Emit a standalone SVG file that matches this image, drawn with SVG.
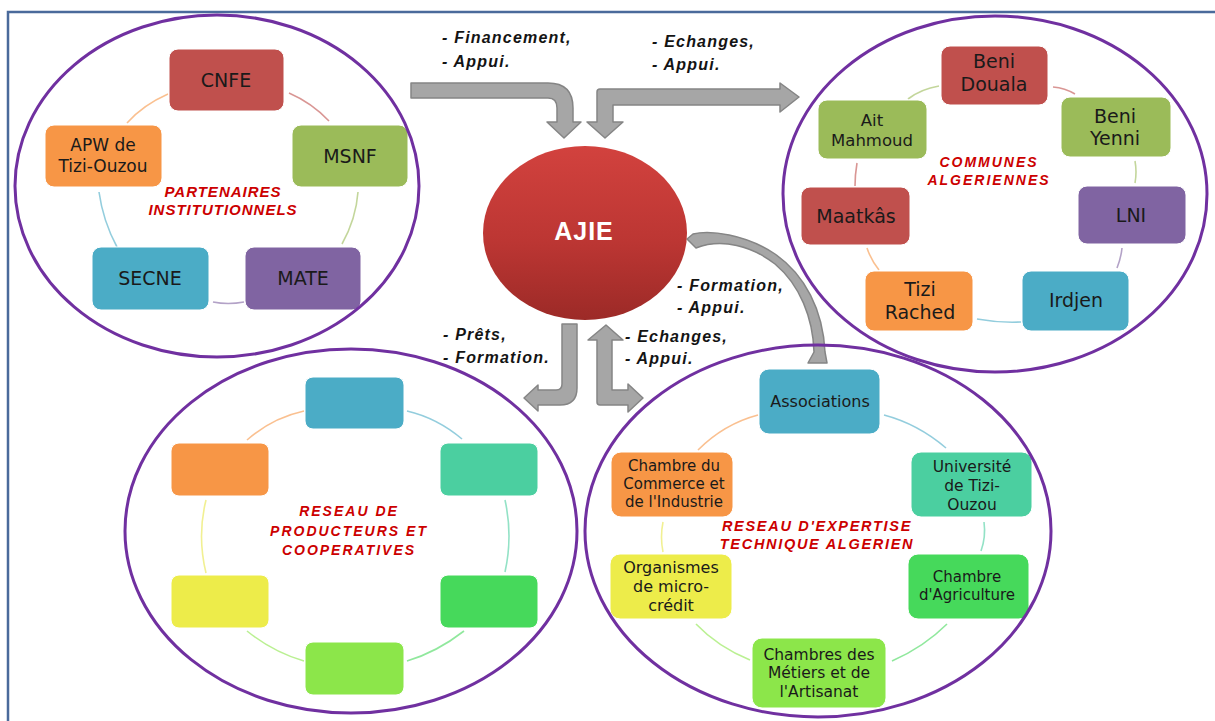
<svg xmlns="http://www.w3.org/2000/svg" width="1215" height="721" viewBox="0 0 1215 721">
<defs>
<linearGradient id="ajieGrad" x1="0" y1="0" x2="0" y2="1">
<stop offset="0" stop-color="#D2423E"/>
<stop offset="0.55" stop-color="#BC3633"/>
<stop offset="1" stop-color="#9C2A27"/>
</linearGradient>
<style>
.bg{fill:#FFFFFF}
.frame{fill:none;stroke:#4A6A9B;stroke-width:2.5}
.cluster{fill:none;stroke:#7030A0;stroke-width:3}
.arrow{fill:#A6A6A6;stroke:#858585;stroke-width:1.5;stroke-linejoin:round}
.arc{fill:none;stroke-width:1.6;stroke-opacity:0.6}
.c-red{stroke:#C0504D}.c-green{stroke:#9BBB59}.c-purple{stroke:#8064A2}.c-blue{stroke:#4BACC6}.c-orange{stroke:#F79646}
.c-teal{stroke:#4BCFA0}.c-green2{stroke:#46D95B}.c-lgreen{stroke:#8CE64A}.c-yellow{stroke:#E8E64A}
.box{stroke:#FFFFFF;stroke-width:1}
.red{fill:#C0504D}.green{fill:#9BBB59}.purple{fill:#8064A2}.blue{fill:#4BACC6}.orange{fill:#F79646}
.teal{fill:#4BCFA0}.green2{fill:#46D95B}.lgreen{fill:#8CE64A}.yellow{fill:#EDEC4A}
.nt{font-family:"DejaVu Sans","Noto Sans",sans-serif;fill:#1A1A1A;text-anchor:middle}
.lbl{font-family:"Liberation Sans",Arial,sans-serif;font-style:italic;font-weight:bold;fill:#CC0000;text-anchor:middle}
.al{font-family:"Liberation Sans",Arial,sans-serif;font-style:italic;font-weight:bold;font-size:16px;fill:#141414;letter-spacing:1.2px}
.ajie{font-family:"Liberation Sans",Arial,sans-serif;font-weight:bold;font-size:25px;fill:#FFFFFF;text-anchor:middle}
</style>
</defs>
<rect class="bg" x="0" y="0" width="1215" height="721"/>
<path class="frame" d="M8,721 V12 H1215"/>

<g id="connectors">
<!-- cycle arcs: partenaires -->
<path class="arc c-red" d="M289,93 Q312,103 329,121"/>
<path class="arc c-green" d="M358,192 Q356,219 342,244"/>
<path class="arc c-purple" d="M244,302 Q228,305 213,302"/>
<path class="arc c-blue" d="M117,247 Q103,221 99,192"/>
<path class="arc c-orange" d="M127,123 Q143,105 168,94"/>
<!-- communes -->
<path class="arc c-green" d="M908,99 Q921,89 939,86"/>
<path class="arc c-red" d="M1053,87 Q1065,88 1075,94"/>
<path class="arc c-green" d="M1135,161 Q1137,172 1135,183"/>
<path class="arc c-purple" d="M1122,248 Q1121,258 1117,268"/>
<path class="arc c-blue" d="M1021,322 Q999,323 977,319"/>
<path class="arc c-orange" d="M879,270 Q871,260 867,248"/>
<path class="arc c-red" d="M855,186 Q855,175 857,163"/>
<!-- producteurs -->
<path class="arc c-blue" d="M407,411 Q437,418 462,439"/>
<path class="arc c-teal" d="M505,500 Q513,536 505,572"/>
<path class="arc c-green2" d="M464,631 Q437,652 407,661"/>
<path class="arc c-lgreen" d="M304,661 Q273,652 247,631"/>
<path class="arc c-yellow" d="M206,573 Q197,536 206,500"/>
<path class="arc c-orange" d="M247,440 Q272,418 304,411"/>
<!-- expertise -->
<path class="arc c-blue" d="M884,415 Q918,424 946,448"/>
<path class="arc c-teal" d="M984,522 Q986,537 981,551"/>
<path class="arc c-green2" d="M947,624 Q924,647 892,661"/>
<path class="arc c-lgreen" d="M750,660 Q718,647 696,624"/>
<path class="arc c-yellow" d="M663,552 Q660,537 663,522"/>
<path class="arc c-orange" d="M698,450 Q724,424 758,415"/>
<!-- block arrows -->
<path id="arrow-financement" class="arrow" d="M411,83 H548 Q573,83 573,108 V122 H581 L564,138 L547,122 H557 V108 Q557,98 548,98 H411 Z"/>
<path id="arrow-echanges-communes" class="arrow" d="M605,138 L587,122 H597 V92 Q597,89 600,89 H780 V83 L799,97 L780,112 V105 H613 V122 H623 Z"/>
<path id="arrow-formation" class="arrow" d="M687,239 L693,234 C710,230 745,234 775,254 C805,275 823,310 825,352 L827,363 L808,363 L814,352 C813,318 800,285 775,264 C752,246 722,238 696,248 Z"/>
<path id="arrow-prets" class="arrow" d="M562,324 H577 V388 Q577,405 560,405 H538 V411 L524,398 L538,385 V390 H556 Q562,390 562,384 Z"/>
<path id="arrow-echanges-expertise" class="arrow" d="M606,325 L623,340 H612 V390 H628 V384 L643,398 L628,412 V405 H600 Q597,405 597,402 V340 H588 Z"/>
</g>

<g id="arrow-labels">
<text class="al" x="442" y="43">- Financement,</text>
<text class="al" x="442" y="67">- Appui.</text>
<text class="al" x="652" y="47">- Echanges,</text>
<text class="al" x="652" y="70">- Appui.</text>
<text class="al" x="677" y="291">- Formation,</text>
<text class="al" x="677" y="313">- Appui.</text>
<text class="al" x="443" y="340">- Prêts,</text>
<text class="al" x="443" y="363">- Formation.</text>
<text class="al" x="625" y="342">- Echanges,</text>
<text class="al" x="625" y="364">- Appui.</text>
</g>

<g id="node-ajie">
<ellipse cx="585" cy="233" rx="102" ry="87" fill="url(#ajieGrad)"/>
<text class="ajie" x="584" y="240" letter-spacing="1">AJIE</text>
</g>

<!-- Partenaires institutionnels -->
<g id="node-cnfe"><rect class="box red" x="169" y="49" width="115" height="62" rx="9"/><text class="nt" x="226" y="87" font-size="19">CNFE</text></g>
<g id="node-msnf"><rect class="box green" x="292" y="125" width="116" height="62" rx="9"/><text class="nt" x="350" y="163" font-size="19">MSNF</text></g>
<g id="node-mate"><rect class="box purple" x="245" y="247" width="116" height="63" rx="9"/><text class="nt" x="303" y="285" font-size="19">MATE</text></g>
<g id="node-secne"><rect class="box blue" x="92" y="247" width="117" height="63" rx="9"/><text class="nt" x="150" y="285" font-size="19">SECNE</text></g>
<g id="node-apw"><rect class="box orange" x="45" y="125" width="117" height="62" rx="9"/><text class="nt" x="103" y="151" font-size="17">APW de</text><text class="nt" x="103" y="172" font-size="17">Tizi-Ouzou</text></g>

<!-- Communes -->
<g id="node-beni-douala"><rect class="box red" x="941" y="46" width="107" height="59" rx="9"/><text class="nt" x="994" y="68" font-size="19">Beni</text><text class="nt" x="994" y="91" font-size="19">Douala</text></g>
<g id="node-beni-yenni"><rect class="box green" x="1061" y="97" width="110" height="60" rx="9"/><text class="nt" x="1115" y="123" font-size="19">Beni</text><text class="nt" x="1115" y="145" font-size="19">Yenni</text></g>
<g id="node-lni"><rect class="box purple" x="1078" y="186" width="108" height="58" rx="9"/><text class="nt" x="1131" y="222" font-size="19">LNI</text></g>
<g id="node-irdjen"><rect class="box blue" x="1022" y="271" width="107" height="60" rx="9"/><text class="nt" x="1076" y="307" font-size="19">Irdjen</text></g>
<g id="node-tizi-rached"><rect class="box orange" x="865" y="271" width="108" height="60" rx="9"/><text class="nt" x="920" y="296" font-size="19">Tizi</text><text class="nt" x="920" y="319" font-size="19">Rached</text></g>
<g id="node-maatkas"><rect class="box red" x="801" y="187" width="109" height="58" rx="9"/><text class="nt" x="856" y="223" font-size="19">Maatkâs</text></g>
<g id="node-ait-mahmoud"><rect class="box green" x="818" y="100" width="109" height="59" rx="9"/><text class="nt" x="872" y="126" font-size="16.5">Ait</text><text class="nt" x="872" y="146" font-size="16.5">Mahmoud</text></g>

<!-- Producteurs -->
<g id="node-prod-1"><rect class="box blue" x="305" y="377" width="99" height="52" rx="8"/></g>
<g id="node-prod-2"><rect class="box teal" x="440" y="443" width="98" height="53" rx="8"/></g>
<g id="node-prod-3"><rect class="box green2" x="440" y="575" width="98" height="53" rx="8"/></g>
<g id="node-prod-4"><rect class="box lgreen" x="305" y="642" width="99" height="53" rx="8"/></g>
<g id="node-prod-5"><rect class="box yellow" x="171" y="575" width="98" height="53" rx="8"/></g>
<g id="node-prod-6"><rect class="box orange" x="171" y="443" width="98" height="53" rx="8"/></g>

<!-- Expertise -->
<g id="node-associations"><rect class="box blue" x="759" y="369" width="121" height="65" rx="10"/><text class="nt" x="820" y="407" font-size="16">Associations</text></g>
<g id="node-universite"><rect class="box teal" x="911" y="452" width="121" height="65" rx="10"/><text class="nt" x="972" y="472" font-size="15.5">Université</text><text class="nt" x="972" y="491" font-size="15.5">de Tizi-</text><text class="nt" x="972" y="510" font-size="15.5">Ouzou</text></g>
<g id="node-agriculture"><rect class="box green2" x="908" y="554" width="121" height="65" rx="10"/><text class="nt" x="967" y="582" font-size="15">Chambre</text><text class="nt" x="967" y="600" font-size="15">d'Agriculture</text></g>
<g id="node-metiers"><rect class="box lgreen" x="752" y="638" width="134" height="70" rx="10"/><text class="nt" x="819" y="660" font-size="15.5">Chambres des</text><text class="nt" x="819" y="678" font-size="15.5">Métiers et de</text><text class="nt" x="819" y="697" font-size="15.5">l'Artisanat</text></g>
<g id="node-microcredit"><rect class="box yellow" x="610" y="554" width="122" height="65" rx="10"/><text class="nt" x="671" y="573" font-size="16">Organismes</text><text class="nt" x="671" y="592" font-size="16">de micro-</text><text class="nt" x="671" y="611" font-size="16">crédit</text></g>
<g id="node-commerce"><rect class="box orange" x="611" y="452" width="122" height="65" rx="10"/><text class="nt" x="674" y="471" font-size="15">Chambre du</text><text class="nt" x="674" y="489" font-size="15">Commerce et</text><text class="nt" x="674" y="507" font-size="15">de l'Industrie</text></g>

<!-- cluster outlines and titles -->
<g id="cluster-partenaires">
<ellipse class="cluster" cx="217" cy="186" rx="202" ry="171"/>
<text class="lbl" x="223" y="197" font-size="15" letter-spacing="1">PARTENAIRES</text>
<text class="lbl" x="223" y="215" font-size="15" letter-spacing="1">INSTITUTIONNELS</text>
</g>
<g id="cluster-communes">
<ellipse class="cluster" cx="995" cy="194" rx="212" ry="178"/>
<text class="lbl" x="989" y="167" font-size="14" letter-spacing="2">COMMUNES</text>
<text class="lbl" x="989" y="185" font-size="14" letter-spacing="2">ALGERIENNES</text>
</g>
<g id="cluster-producteurs">
<ellipse class="cluster" cx="351" cy="531" rx="226" ry="182"/>
<text class="lbl" x="349" y="516" font-size="14" letter-spacing="2">RESEAU DE</text>
<text class="lbl" x="349" y="536" font-size="14" letter-spacing="2">PRODUCTEURS ET</text>
<text class="lbl" x="349" y="555" font-size="14" letter-spacing="2">COOPERATIVES</text>
</g>
<g id="cluster-expertise">
<ellipse class="cluster" cx="818" cy="531" rx="233" ry="186"/>
<text class="lbl" x="817" y="531" font-size="14.5" letter-spacing="1.7">RESEAU D'EXPERTISE</text>
<text class="lbl" x="817" y="549" font-size="14.5" letter-spacing="1.7">TECHNIQUE ALGERIEN</text>
</g>
</svg>
